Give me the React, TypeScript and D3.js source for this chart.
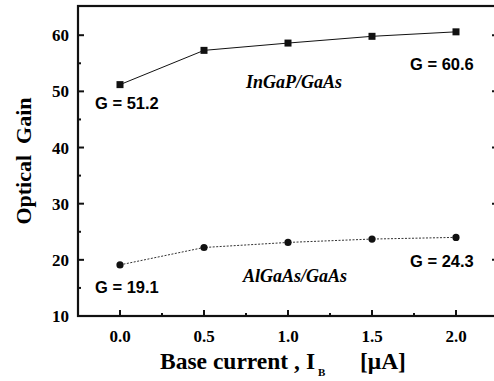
import React, { useEffect, useRef } from 'react'
import * as d3 from 'd3'

const currents = [0, 0.5, 1.0, 1.5, 2.0]
const ingapGain = [51.2, 57.3, 58.6, 59.8, 60.6]
const algaasGain = [19.1, 22.2, 23.1, 23.7, 24.0]
const xTicks = [0, 0.5, 1.0, 1.5, 2.0]
const yTicks = [10, 20, 30, 40, 50, 60]

const W = 494
const H = 381
const margin = { left: 78, top: 6, right: -4, bottom: 65 }

const App = () => {
  const ref = useRef<SVGSVGElement>(null)

  useEffect(() => {
    const svg = d3.select(ref.current)
    svg.selectAll('*').remove()

    const x = d3.scaleLinear().domain([-0.25, 2.25]).range([margin.left, W - margin.right])
    const y = d3.scaleLinear().domain([10, 65.2]).range([H - margin.bottom, margin.top])
    const x0 = x.range()[0], x1 = x.range()[1]
    const y0 = y.range()[0], y1 = y.range()[1]

    const serif = '"Liberation Serif", "Times New Roman", serif'
    const sans = '"Liberation Sans", Arial, sans-serif'

    // frame
    svg.append('rect')
      .attr('x', x0).attr('y', y1).attr('width', x1 - x0).attr('height', y0 - y1)
      .attr('fill', 'none').attr('stroke', '#111').attr('stroke-width', 2.2)

    // ticks, inward
    const yMinor = d3.range(15, 65, 10)
    const g = svg.append('g').attr('stroke', '#111').attr('stroke-width', 2)
    yTicks.forEach(v => {
      g.append('line').attr('x1', x0).attr('x2', x0 + 6).attr('y1', y(v)).attr('y2', y(v))
      g.append('line').attr('x1', x1).attr('x2', x1 - 6).attr('y1', y(v)).attr('y2', y(v))
    })
    yMinor.forEach(v => {
      g.append('line').attr('x1', x0).attr('x2', x0 + 3).attr('y1', y(v)).attr('y2', y(v))
      g.append('line').attr('x1', x1).attr('x2', x1 - 3).attr('y1', y(v)).attr('y2', y(v))
    })
    xTicks.forEach(v => {
      g.append('line').attr('x1', x(v)).attr('x2', x(v)).attr('y1', y0).attr('y2', y0 - 6)
    })
    d3.range(-0.25, 2.3, 0.5).forEach(v => {
      g.append('line').attr('x1', x(v)).attr('x2', x(v)).attr('y1', y0).attr('y2', y0 - 3)
    })

    // tick labels
    svg.append('g').selectAll('text').data(yTicks).join('text')
      .attr('x', x0 - 9).attr('y', d => y(d) + 6)
      .attr('text-anchor', 'end')
      .attr('font-family', serif).attr('font-weight', 'bold').attr('font-size', 17)
      .text(d => d)
    svg.append('g').selectAll('text').data(xTicks).join('text')
      .attr('x', d => x(d)).attr('y', y0 + 26)
      .attr('text-anchor', 'middle')
      .attr('font-family', serif).attr('font-weight', 'bold').attr('font-size', 17)
      .text(d => d.toFixed(1))

    // axis titles
    svg.append('text')
      .attr('transform', `translate(31,${(y0 + y1) / 2}) rotate(-90)`)
      .attr('text-anchor', 'middle')
      .style('white-space', 'pre')
      .attr('font-family', serif).attr('font-weight', 'bold').attr('font-size', 22)
      .text('Optical  Gain')
    const xt = svg.append('text')
      .attr('y', 369)
      .attr('font-family', serif).attr('font-weight', 'bold').attr('font-size', 23.5)
    xt.append('tspan').attr('x', 160).text('Base current ,')
    xt.append('tspan').attr('x', 306).text('I')
    xt.append('tspan').attr('x', 318).attr('font-size', 11).attr('dy', 7).text('B')
    xt.append('tspan').attr('x', 360).attr('dy', -7).text('[\u03BCA]')

    const line = d3.line<number>().x((_, i) => x(currents[i])).y(d => y(d))

    // InGaP/GaAs
    svg.append('path').attr('d', line(ingapGain))
      .attr('fill', 'none').attr('stroke', '#111').attr('stroke-width', 1)
    svg.append('g').selectAll('rect').data(ingapGain).join('rect')
      .attr('x', (_, i) => x(currents[i]) - 3.5).attr('y', d => y(d) - 3.5)
      .attr('width', 7).attr('height', 7).attr('fill', '#111')

    // AlGaAs/GaAs
    svg.append('path').attr('d', line(algaasGain))
      .attr('fill', 'none').attr('stroke', '#333').attr('stroke-width', 1)
      .attr('stroke-dasharray', '2,1.5')
    svg.append('g').selectAll('circle').data(algaasGain).join('circle')
      .attr('cx', (_, i) => x(currents[i])).attr('cy', d => y(d)).attr('r', 3.6)
      .attr('fill', '#111')

    // annotations
    const ann = (tx: number, ty: number, s: string) =>
      svg.append('text').attr('x', tx).attr('y', ty)
        .attr('font-family', sans).attr('font-weight', 'bold').attr('font-size', 16.5)
        .text(s)
    ann(95, 109, 'G = 51.2')
    ann(410, 70, 'G = 60.6')
    ann(95, 293, 'G = 19.1')
    ann(410, 267, 'G = 24.3')

    const lab = (tx: number, ty: number, s: string) =>
      svg.append('text').attr('x', tx).attr('y', ty).attr('text-anchor', 'middle')
        .attr('font-family', serif).attr('font-weight', 'bold').attr('font-style', 'italic')
        .attr('font-size', 18).text(s)
    lab(294, 88, 'InGaP/GaAs')
    lab(295, 282, 'AlGaAs/GaAs')
  }, [])

  return (
    <svg ref={ref} width={W} height={H}
      style={{ position: 'absolute', left: 0, top: 0, background: '#fff' }} />
  )
}

export default App
